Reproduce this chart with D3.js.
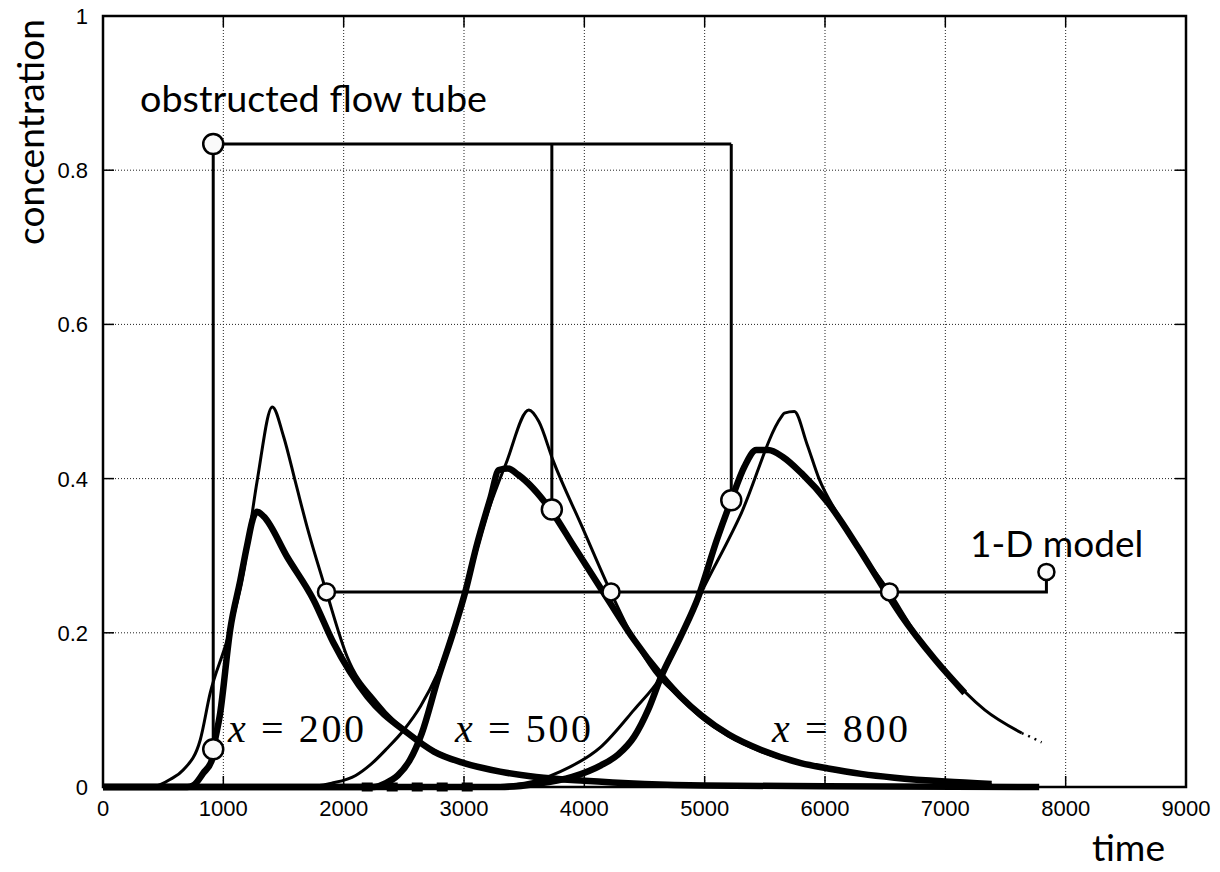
<!DOCTYPE html>
<html>
<head>
<meta charset="utf-8">
<script src="https://cdn.jsdelivr.net/npm/d3@7"></script>
<style>
  html, body { margin: 0; padding: 0; background: #fff; }
  svg { display: block; }
</style>
</head>
<body>
<svg id="chart" width="1220" height="872"></svg>
<script>
// axis ticks
var xTicks = [0, 1000, 2000, 3000, 4000, 5000, 6000, 7000, 8000, 9000];
var yTicks = [0, 0.2, 0.4, 0.6, 0.8, 1];
var yTickLabels = ["0", "0.2", "0.4", "0.6", "0.8", "1"];

// 1-D model curves (thin) : [time, concentration]
var model200 = [[0, 0], [400, 0], [475, 0.003], [560, 0.01], [666, 0.022], [808, 0.061], [891, 0.122],
	[1032, 0.191], [1166, 0.278], [1282, 0.398], [1407, 0.493], [1500, 0.455], [1600, 0.395], [1700, 0.335],
	[1857, 0.253], [2029, 0.169], [2279, 0.11], [2612, 0.061], [3000, 0.031], [3300, 0.02], [3600, 0.012],
	[4000, 0.007], [4500, 0.003], [5000, 0.001], [6000, 0]];
var model500 = [[0, 0], [1640, 0], [1900, 0.005], [2100, 0.015], [2223, 0.029], [2360, 0.05], [2500, 0.074],
	[2640, 0.105], [2779, 0.147], [2917, 0.204], [3014, 0.255], [3195, 0.355], [3350, 0.42], [3539, 0.489],
	[3622, 0.474], [3739, 0.424], [3980, 0.338], [4222, 0.252], [4400, 0.195], [4580, 0.15], [4800, 0.115],
	[4971, 0.09], [5200, 0.066], [5470, 0.046], [5800, 0.03], [6300, 0.016], [7000, 0.006], [7385, 0.003]];
var model800 = [[0, 0], [3000, 0], [3500, 0.005], [3800, 0.02], [4138, 0.052], [4413, 0.1], [4638, 0.143],
	[4971, 0.252], [5304, 0.355], [5637, 0.48], [5662, 0.485], [5745, 0.487], [5850, 0.445], [5950, 0.4],
	[6100, 0.355], [6300, 0.305], [6536, 0.253], [6750, 0.2], [6994, 0.152], [7327, 0.1], [7635, 0.07]];
var model800Tail = [[7635, 0.07], [7720, 0.064], [7800, 0.058]];

// obstructed flow tube curves (thick)
var tube200 = [[0, 0], [700, 0], [750, 0.002], [833, 0.018], [905, 0.035], [918, 0.049], [974, 0.096],
	[1057, 0.204], [1141, 0.268], [1196, 0.312], [1252, 0.351], [1280, 0.357], [1335, 0.351], [1532, 0.298],
	[1749, 0.243], [1915, 0.187], [2198, 0.117], [2531, 0.07], [2750, 0.046], [3000, 0.031], [3300, 0.02],
	[3600, 0.013], [4000, 0.008], [4500, 0.004], [5000, 0.002], [6000, 0.001], [7780, 0]];
var tube500 = [[0, 0], [2250, 0], [2350, 0.005], [2450, 0.015], [2550, 0.035], [2650, 0.07], [2781, 0.139],
	[2917, 0.204], [3014, 0.255], [3100, 0.31], [3222, 0.376], [3289, 0.411], [3364, 0.413], [3450, 0.405],
	[3722, 0.359], [3914, 0.312], [4197, 0.243], [4413, 0.191], [4638, 0.145], [4800, 0.117], [4971, 0.093],
	[5200, 0.068], [5470, 0.048], [5800, 0.031], [6026, 0.024], [6300, 0.017], [6578, 0.012], [7000, 0.007],
	[7385, 0.004]];
var tube800 = [[0, 0], [3300, 0], [3600, 0.004], [3900, 0.013], [4138, 0.028], [4280, 0.042], [4413, 0.065],
	[4530, 0.1], [4638, 0.143], [4800, 0.195], [4946, 0.246], [5100, 0.32], [5221, 0.372], [5329, 0.415],
	[5429, 0.437], [5529, 0.437], [5650, 0.428], [5804, 0.407], [6028, 0.368], [6278, 0.31], [6470, 0.262],
	[6636, 0.222], [6911, 0.166], [7161, 0.122]];
var dashedBase = [[2150, 0], [3150, 0]];

// annotation connectors
var tubeHub = [916, 0.834];
var tubeMarks = [[916, 0.049], [3730, 0.36], [5221, 0.372]];
var modelHub = [7840, 0.279];
var modelBusLevel = 0.253;
var modelMarks = [[1857, 0.253], [4222, 0.253], [6536, 0.253]];

var curveLabels = [["200", 228], ["500", 455], ["800", 772]];

var svg = d3.select("#chart");
var xScale = d3.scaleLinear().domain([0, 9000]).range([103, 1186]);
var yScale = d3.scaleLinear().domain([0, 1]).range([787, 16]);

// grid
svg.append("g").selectAll("line").data(xTicks.slice(1, -1)).enter().append("line")
	.attr("x1", function(d) { return xScale(d); })
	.attr("x2", function(d) { return xScale(d); })
	.attr("y1", yScale(0)).attr("y2", yScale(1))
	.style("stroke", "#222").style("stroke-width", 1).style("stroke-dasharray", "1,2");
svg.append("g").selectAll("line").data(yTicks.slice(1, -1)).enter().append("line")
	.attr("y1", function(d) { return yScale(d); })
	.attr("y2", function(d) { return yScale(d); })
	.attr("x1", xScale(0)).attr("x2", xScale(9000))
	.style("stroke", "#222").style("stroke-width", 1).style("stroke-dasharray", "1,2");

// ticks on all four sides, pointing inward
var tickLen = 11;
var ticks = svg.append("g").style("stroke", "#000").style("stroke-width", 1.5);
xTicks.forEach(function(v) {
	ticks.append("line").attr("x1", xScale(v)).attr("x2", xScale(v)).attr("y1", yScale(0)).attr("y2", yScale(0) - tickLen);
	ticks.append("line").attr("x1", xScale(v)).attr("x2", xScale(v)).attr("y1", yScale(1)).attr("y2", yScale(1) + tickLen);
});
yTicks.forEach(function(v) {
	ticks.append("line").attr("y1", yScale(v)).attr("y2", yScale(v)).attr("x1", xScale(0)).attr("x2", xScale(0) + tickLen);
	ticks.append("line").attr("y1", yScale(v)).attr("y2", yScale(v)).attr("x1", xScale(9000)).attr("x2", xScale(9000) - tickLen);
});

// tick labels
svg.append("g").selectAll("text").data(xTicks).enter().append("text")
	.attr("x", function(d) { return xScale(d); })
	.attr("y", 816)
	.attr("text-anchor", "middle")
	.style("font-family", "Liberation Sans, Arial, sans-serif").style("font-size", "22px")
	.text(function(d) { return String(d); });
svg.append("g").selectAll("text").data(yTicks).enter().append("text")
	.attr("x", 88)
	.attr("y", function(d) { return yScale(d) + 8; })
	.attr("text-anchor", "end")
	.style("font-family", "Liberation Sans, Arial, sans-serif").style("font-size", "22px")
	.text(function(d, i) { return yTickLabels[i]; });

// curves
var line = d3.line()
	.x(function(d) { return xScale(d[0]); })
	.y(function(d) { return yScale(d[1]); })
	.curve(d3.curveMonotoneX);
var curves = svg.append("g").style("fill", "none").style("stroke", "#000").style("stroke-linejoin", "round");
[tube200, tube500, tube800].forEach(function(s) {
	curves.append("path").attr("d", line(s)).style("stroke-width", 6.5);
});
curves.append("path").attr("d", line(dashedBase)).style("stroke-width", 9).style("stroke-dasharray", "11,14");
[model200, model500, model800].forEach(function(s) {
	curves.append("path").attr("d", line(s)).style("stroke-width", 3);
});
curves.append("path").attr("d", line(model800Tail)).style("stroke-width", 2.5).style("stroke-dasharray", "2,5");

// annotation connectors
var conn = svg.append("g").style("fill", "none").style("stroke", "#000").style("stroke-width", 3);
tubeMarks.forEach(function(m) {
	conn.append("path").attr("d", d3.line()([
		[xScale(m[0]), yScale(tubeHub[1])], [xScale(m[0]), yScale(m[1])]
	]));
});
conn.append("path").attr("d", d3.line()([
	[xScale(tubeHub[0]), yScale(tubeHub[1])], [xScale(tubeMarks[2][0]), yScale(tubeHub[1])]
]));
conn.append("path").attr("d", d3.line()([
	[xScale(modelMarks[0][0]), yScale(modelBusLevel)], [xScale(modelHub[0]), yScale(modelBusLevel)],
	[xScale(modelHub[0]), yScale(modelHub[1])]
]));

// marker circles
var marks = svg.append("g").style("fill", "#fafafa").style("stroke", "#000").style("stroke-width", 2.5);
tubeMarks.concat([tubeHub]).forEach(function(m) {
	marks.append("circle").attr("cx", xScale(m[0])).attr("cy", yScale(m[1])).attr("r", 10);
});
modelMarks.forEach(function(m) {
	marks.append("circle").attr("cx", xScale(m[0])).attr("cy", yScale(m[1])).attr("r", 8.5);
});
marks.append("circle").attr("cx", xScale(modelHub[0])).attr("cy", yScale(modelHub[1])).attr("r", 8);

// frame
svg.append("rect")
	.attr("x", xScale(0)).attr("y", yScale(1))
	.attr("width", xScale(9000) - xScale(0)).attr("height", yScale(0) - yScale(1))
	.style("fill", "none").style("stroke", "#000").style("stroke-width", 2.5);

// text
var sans = "Lato, 'Open Sans', sans-serif";
svg.append("text").attr("x", 140).attr("y", 112)
	.attr("textLength", 347).attr("lengthAdjust", "spacingAndGlyphs")
	.style("font-family", sans).style("font-size", "37px")
	.text("obstructed flow tube");
svg.append("text").attr("x", 970).attr("y", 557)
	.style("font-family", sans).style("font-size", "37px")
	.text("1-D model");
svg.append("text").attr("transform", "translate(44,245) rotate(-90)")
	.attr("textLength", 226).attr("lengthAdjust", "spacingAndGlyphs")
	.style("font-family", sans).style("font-size", "37px")
	.text("concentration");
svg.append("text").attr("x", 1092).attr("y", 861)
	.attr("textLength", 73).attr("lengthAdjust", "spacingAndGlyphs")
	.style("font-family", sans).style("font-size", "36px")
	.text("time");

curveLabels.forEach(function(c) {
	var t = svg.append("text").attr("x", c[1]).attr("y", 742)
		.attr("textLength", 136).attr("lengthAdjust", "spacing")
		.style("font-family", "'Liberation Serif', 'DejaVu Serif', serif").style("font-size", "40px");
	t.append("tspan").style("font-style", "italic").text("x");
	t.append("tspan").text(" = " + c[0]);
});
</script>
</body>
</html>
